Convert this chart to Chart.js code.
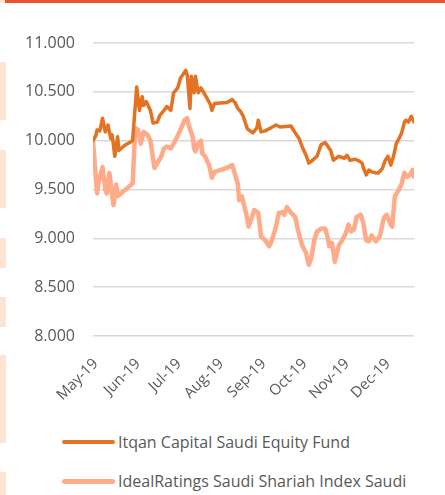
<!DOCTYPE html>
<html>
<head>
<meta charset="utf-8">
<script src="https://cdn.jsdelivr.net/npm/chart.js@4"></script>
<style>
  html, body { margin: 0; padding: 0; background: #fff; }
  body { width: 445px; height: 495px; position: relative; overflow: hidden; font-family: 'Open Sans', sans-serif; }
  #chart { position: absolute; left: 0; top: 0; }
  .edge { position: absolute; background: #FDE4D3; }
  .frame { position: absolute; left: 5px; top: 0; width: 440px; height: 3px; background: #E9532B; }
  .legend-row { position: absolute; left: 62px; display: flex; align-items: center; color: #595959; font-size: 16px; white-space: nowrap; }
  .legend-row .swatch { width: 53px; border-radius: 3px; margin-right: 3px; }
</style>
</head>
<body>
<div class="frame"></div>
<div class="edge" style="left:0;top:0;width:5px;height:3px;"></div>
<div class="edge" style="left:0;top:62px;width:6px;height:58px;"></div>
<div class="edge" style="left:0;top:150px;width:6px;height:58px;"></div>
<div class="edge" style="left:0;top:238px;width:6px;height:30px;"></div>
<div class="edge" style="left:0;top:297px;width:6px;height:30px;"></div>
<div class="edge" style="left:0;top:355px;width:6px;height:88px;"></div>
<div class="edge" style="left:0;top:472px;width:6px;height:23px;"></div>

<canvas id="chart" width="445" height="420"></canvas>
<div id="legend"></div>

<script>
// Itqan fund vs IdealRatings index, rebased to 10.000, May–Dec 2019.
// x values are days counted from 1 May 2019.

const SERIES_NAMES = ['Itqan Capital Saudi Equity Fund', 'IdealRatings Saudi Shariah Index Saudi'];
const SERIES_COLORS = ['#E37222', '#FFAB8A'];

const MONTH_DAYS   = [0, 31, 61, 92, 123, 153, 184, 214];
const MONTH_LABELS = ['May-19', 'Jun-19', 'Jul-19', 'Aug-19', 'Sep-19', 'Oct-19', 'Nov-19', 'Dec-19'];

const itqanDays = [
  -2, 0, 1, 3, 5, 7, 9, 11, 12, 14, 16, 17, 21, 27, 30, 32, 34, 35, 37, 40,
  42, 45, 47, 50, 52, 55, 57, 60, 62, 66, 67, 69, 70, 72, 73, 75, 77, 80, 84, 85,
  87, 96, 100, 102, 104, 106, 108, 111, 115, 118, 119, 121, 124, 128, 132, 135, 143, 146, 149, 151,
  154, 156, 158, 162, 165, 168, 171, 172, 174, 178, 182, 184, 186, 190, 193, 195, 196, 198, 200, 202,
  205, 207, 210, 212, 214, 216, 218, 220, 222, 224, 226, 227, 229, 231, 233
];
const itqanValues = [
  10.00, 10.05, 10.11, 10.10, 10.23, 10.09, 10.16, 10.02, 10.06, 9.84, 10.04, 9.90, 9.95, 10.00, 10.55, 10.31, 10.45, 10.36, 10.40, 10.31,
  10.18, 10.19, 10.26, 10.31, 10.35, 10.31, 10.49, 10.54, 10.64, 10.72, 10.67, 10.33, 10.66, 10.49, 10.66, 10.49, 10.54, 10.47, 10.37, 10.31,
  10.38, 10.39, 10.42, 10.39, 10.33, 10.30, 10.25, 10.12, 10.08, 10.13, 10.21, 10.09, 10.10, 10.13, 10.16, 10.14, 10.15, 10.08, 10.02, 9.94,
  9.85, 9.77, 9.79, 9.84, 9.96, 9.98, 9.92, 9.90, 9.80, 9.84, 9.82, 9.85, 9.80, 9.81, 9.79, 9.77, 9.72, 9.65, 9.70, 9.68,
  9.67, 9.67, 9.72, 9.80, 9.84, 9.75, 9.84, 9.97, 10.02, 10.08, 10.19, 10.21, 10.19, 10.25, 10.19
];

const idealDays = [
  -2, 1, 2, 5, 7, 8, 10, 11, 13, 15, 16, 27, 29, 31, 33, 35, 38, 40, 43, 48,
  50, 52, 55, 59, 62, 65, 67, 68, 71, 72, 73, 75, 77, 78, 80, 83, 85, 87, 96, 100,
  101, 104, 105, 107, 110, 112, 116, 119, 121, 124, 127, 129, 132, 134, 137, 138, 140, 143, 146, 148,
  151, 154, 156, 158, 160, 162, 165, 168, 170, 171, 173, 175, 178, 180, 183, 185, 187, 189, 191, 194,
  196, 198, 200, 202, 205, 208, 211, 213, 216, 217, 219, 222, 224, 226, 228, 230, 232, 233
];
const idealValues = [
  10.00, 9.46, 9.57, 9.73, 9.50, 9.46, 9.67, 9.56, 9.34, 9.55, 9.43, 9.56, 10.13, 10.11, 9.97, 10.09, 10.06, 10.00, 9.72, 9.84,
  9.92, 9.94, 9.92, 10.02, 10.11, 10.21, 10.23, 10.16, 10.04, 9.92, 9.89, 9.97, 10.00, 9.87, 9.84, 9.75, 9.62, 9.68, 9.72, 9.75,
  9.70, 9.56, 9.39, 9.43, 9.26, 9.12, 9.29, 9.26, 9.02, 8.98, 8.92, 8.98, 9.12, 9.26, 9.27, 9.24, 9.32, 9.26, 9.22, 9.09,
  8.93, 8.85, 8.73, 8.81, 8.98, 9.07, 9.10, 9.10, 9.00, 8.92, 8.95, 8.76, 8.93, 8.97, 9.05, 9.14, 9.07, 9.09, 9.22, 9.24,
  9.15, 8.98, 8.97, 9.03, 8.97, 9.02, 9.21, 9.24, 9.14, 9.12, 9.43, 9.50, 9.56, 9.67, 9.63, 9.65, 9.70, 9.63
];

const TEXT_COLOR = '#595959';
const GRID_COLOR = '#D9D9D9';

// ── Chart ──────────────────────────────────────────────────────────────────
const toPoints = (days, vals) => days.map((d, i) => ({ x: d, y: vals[i] }));

const datasets = [
  { label: SERIES_NAMES[0], data: toPoints(itqanDays, itqanValues), borderColor: SERIES_COLORS[0], borderWidth: 3.5 },
  { label: SERIES_NAMES[1], data: toPoints(idealDays, idealValues), borderColor: SERIES_COLORS[1], borderWidth: 4.5 }
].map(ds => ({ ...ds, pointRadius: 0, tension: 0, fill: false, borderJoinStyle: 'round', borderCapStyle: 'round' }));

// draw the light series first so the dark one sits on top
datasets[0].order = 0;
datasets[1].order = 1;

new Chart(document.getElementById('chart').getContext('2d'), {
  type: 'line',
  data: { datasets },
  options: {
    responsive: false,
    animation: false,
    layout: { padding: { top: 43, right: 31, bottom: 0, left: 0 } },
    plugins: {
      legend: { display: false },
      tooltip: { enabled: false }
    },
    scales: {
      x: {
        type: 'linear',
        min: -2,
        max: 233,
        afterBuildTicks: s => { s.ticks = MONTH_DAYS.map(v => ({ value: v })); },
        afterFit: s => { s.height = 84; },
        grid: { display: false },
        border: { display: false },
        ticks: {
          autoSkip: false,
          minRotation: 45,
          maxRotation: 45,
          padding: 11,
          color: TEXT_COLOR,
          font: { family: 'Open Sans', size: 15 },
          callback: (v, i) => MONTH_LABELS[i]
        }
      },
      y: {
        min: 8,
        max: 11,
        afterFit: s => { s.width = 93; },
        grid: { color: GRID_COLOR, lineWidth: 1.5, drawTicks: false },
        border: { display: false },
        ticks: {
          stepSize: 0.5,
          padding: 18,
          color: TEXT_COLOR,
          font: { family: 'Open Sans', size: 16 },
          callback: v => v.toFixed(3)
        }
      }
    }
  }
});

// ── Legend (two left-aligned rows under the plot) ─────────────────────────
const legendTops = [431, 470];
const swatchHeights = [4, 5];
const legend = document.getElementById('legend');
SERIES_NAMES.forEach((name, i) => {
  const row = document.createElement('div');
  row.className = 'legend-row';
  row.style.top = legendTops[i] + 'px';
  const sw = document.createElement('span');
  sw.className = 'swatch';
  sw.style.height = swatchHeights[i] + 'px';
  sw.style.background = SERIES_COLORS[i];
  const txt = document.createElement('span');
  txt.textContent = name;
  row.appendChild(sw);
  row.appendChild(txt);
  legend.appendChild(row);
});
</script>
</body>
</html>
